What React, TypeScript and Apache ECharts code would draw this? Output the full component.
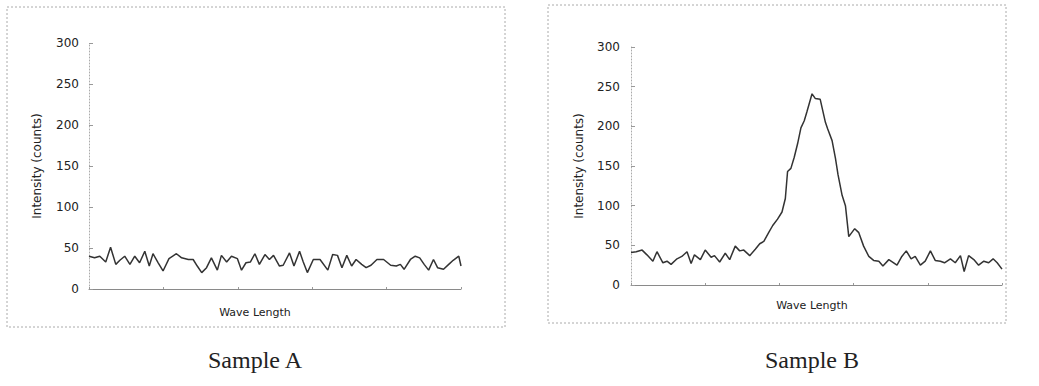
import React, { useEffect, useRef } from "react";
import * as echarts from "echarts";

// Sample A: wavelength positions (arbitrary 0-100 scale) and intensities
const waveA = [0, 1.5, 2.9, 4.5, 5.8, 7.2, 8.3, 9.6, 11.0, 12.3, 13.6, 15.0, 16.2, 17.2, 18.6, 19.9, 21.5, 23.5, 24.9, 26.7, 28.0, 29.1, 30.3, 31.6, 32.9, 34.5, 35.6, 37.0, 38.3, 39.9, 41.0, 42.2, 43.4, 44.6, 45.8, 47.3, 48.5, 49.6, 51.2, 52.2, 53.9, 55.1, 56.6, 57.6, 58.7, 60.3, 62.1, 64.2, 65.5, 66.8, 68.0, 69.3, 70.6, 71.8, 73.3, 74.5, 75.8, 77.4, 79.2, 81.1, 82.6, 83.7, 84.7, 86.4, 87.7, 88.9, 90.1, 91.3, 92.6, 93.7, 95.3, 96.7, 97.9, 99.4, 100];
const intensityA = [40, 38, 40, 33, 51, 30, 35, 40, 30, 40, 32, 46, 28, 43, 32, 22, 37, 43, 38, 36, 36, 28, 20, 26, 38, 23, 41, 33, 40, 37, 23, 32, 33, 43, 30, 42, 36, 41, 28, 29, 44, 28, 46, 33, 20, 36, 36, 23, 42, 41, 26, 41, 28, 36, 30, 26, 29, 36, 36, 29, 28, 30, 24, 36, 40, 38, 30, 23, 36, 26, 24, 30, 35, 40, 28];

// Sample B
const waveB = [0, 1.4, 3.0, 4.3, 5.9, 7.0, 8.6, 9.7, 10.8, 12.4, 13.7, 15.1, 16.2, 17.1, 18.7, 20.0, 21.6, 22.5, 23.9, 25.4, 26.6, 28.1, 29.3, 30.4, 32.0, 33.5, 34.7, 35.8, 37.1, 38.2, 39.5, 40.7, 41.6, 42.2, 43.1, 44.0, 44.9, 45.8, 46.7, 47.4, 48.8, 49.7, 51.0, 52.4, 53.0, 54.2, 55.1, 55.8, 56.9, 57.8, 58.7, 60.3, 61.4, 62.7, 64.1, 65.4, 66.8, 67.9, 69.5, 70.8, 71.7, 73.0, 74.2, 75.5, 76.6, 78.0, 79.3, 80.7, 82.0, 83.4, 84.5, 86.1, 87.4, 88.8, 89.8, 91.0, 92.4, 93.7, 95.1, 96.4, 97.6, 98.7, 100];
const intensityB = [41, 42, 44, 38, 30, 42, 28, 30, 26, 33, 36, 42, 27, 38, 32, 44, 35, 37, 29, 40, 32, 49, 43, 44, 37, 45, 52, 55, 66, 75, 83, 92, 109, 143, 147, 161, 178, 198, 207, 218, 241, 235, 234, 205, 197, 182, 160, 139, 113, 100, 61, 71, 66, 49, 36, 31, 30, 24, 32, 28, 25, 36, 43, 33, 36, 25, 30, 43, 31, 30, 28, 33, 28, 37, 17, 37, 32, 25, 30, 28, 33, 28, 20];

const yMin = 0;
const yMax = 300;
const yStep = 50;
const captions = ["Sample A", "Sample B"];
const xName = "Wave Length";
const yName = "Intensity (counts)";

export default function App() {
  const ref = useRef<HTMLDivElement>(null);

  useEffect(() => {
    const chart = echarts.init(ref.current!, null, { renderer: "svg" });
    const labelFont = { fontFamily: "DejaVu Sans", fontSize: 12, color: "#222" };
    const makeX = (gridIndex: number, pad: number, gap: number) => ({
      type: "value",
      gridIndex,
      min: 0,
      max: 100,
      interval: 20,
      name: xName,
      nameLocation: "middle",
      nameGap: gap,
      nameTextStyle: { fontFamily: "DejaVu Sans", fontSize: 11, color: "#222", padding: [0, pad, 0, 0] },
      axisLine: { lineStyle: { color: "#8a8a8a", width: 1 } },
      axisTick: { show: true, inside: true, length: 2, lineStyle: { color: "#999" } },
      axisLabel: { show: false },
      splitLine: { show: false },
    });
    const makeY = (gridIndex: number, margin: number) => ({
      type: "value",
      gridIndex,
      min: yMin,
      max: yMax,
      interval: yStep,
      name: yName,
      nameLocation: "middle",
      nameGap: 46,
      nameTextStyle: { fontFamily: "DejaVu Sans", fontSize: 12, color: "#222" },
      axisLine: { show: true, lineStyle: { color: "#aaa", width: 1, type: [1, 2] } },
      axisTick: { show: true, inside: true, length: 4, lineStyle: { color: "#999" } },
      axisLabel: { ...labelFont, margin },
      splitLine: { show: false },
    });

    chart.setOption({
      animation: false,
      backgroundColor: "#ffffff",
      grid: [
        { left: 89, top: 43, width: 372, height: 246 },
        { left: 631, top: 47, width: 371, height: 238 },
      ],
      xAxis: [makeX(0, 40, 18), makeX(1, 9, 15)],
      yAxis: [makeY(0, 10), makeY(1, 11)],
      series: [
        {
          type: "line",
          xAxisIndex: 0,
          yAxisIndex: 0,
          data: waveA.map((w, i) => [w, intensityA[i]]),
          showSymbol: false,
          symbol: "none",
          lineStyle: { color: "#333", width: 1.5 },
        },
        {
          type: "line",
          xAxisIndex: 1,
          yAxisIndex: 1,
          data: waveB.map((w, i) => [w, intensityB[i]]),
          showSymbol: false,
          symbol: "none",
          lineStyle: { color: "#333", width: 1.5 },
        },
      ],
      graphic: [
        {
          type: "rect",
          silent: true,
          shape: { x: 7, y: 7, width: 498, height: 320 },
          style: { fill: "none", stroke: "#aaa", lineWidth: 1, lineDash: [2, 2] },
        },
        {
          type: "rect",
          silent: true,
          shape: { x: 548, y: 5, width: 458, height: 318 },
          style: { fill: "none", stroke: "#aaa", lineWidth: 1, lineDash: [2, 2] },
        },
        {
          type: "text",
          silent: true,
          x: 255,
          y: 360,
          style: {
            text: captions[0],
            font: '24px "Liberation Serif"',
            fill: "#222",
            textAlign: "center",
            textVerticalAlign: "middle",
            align: "center",
            verticalAlign: "middle",
          },
        },
        {
          type: "text",
          silent: true,
          x: 812,
          y: 360,
          style: {
            text: captions[1],
            font: '24px "Liberation Serif"',
            fill: "#222",
            textAlign: "center",
            textVerticalAlign: "middle",
            align: "center",
            verticalAlign: "middle",
          },
        },
      ],
    });
    return () => chart.dispose();
  }, []);

  return (
    <div
      ref={ref}
      style={{ position: "absolute", left: 0, top: 0, width: 1039, height: 386, background: "#fff" }}
    />
  );
}
